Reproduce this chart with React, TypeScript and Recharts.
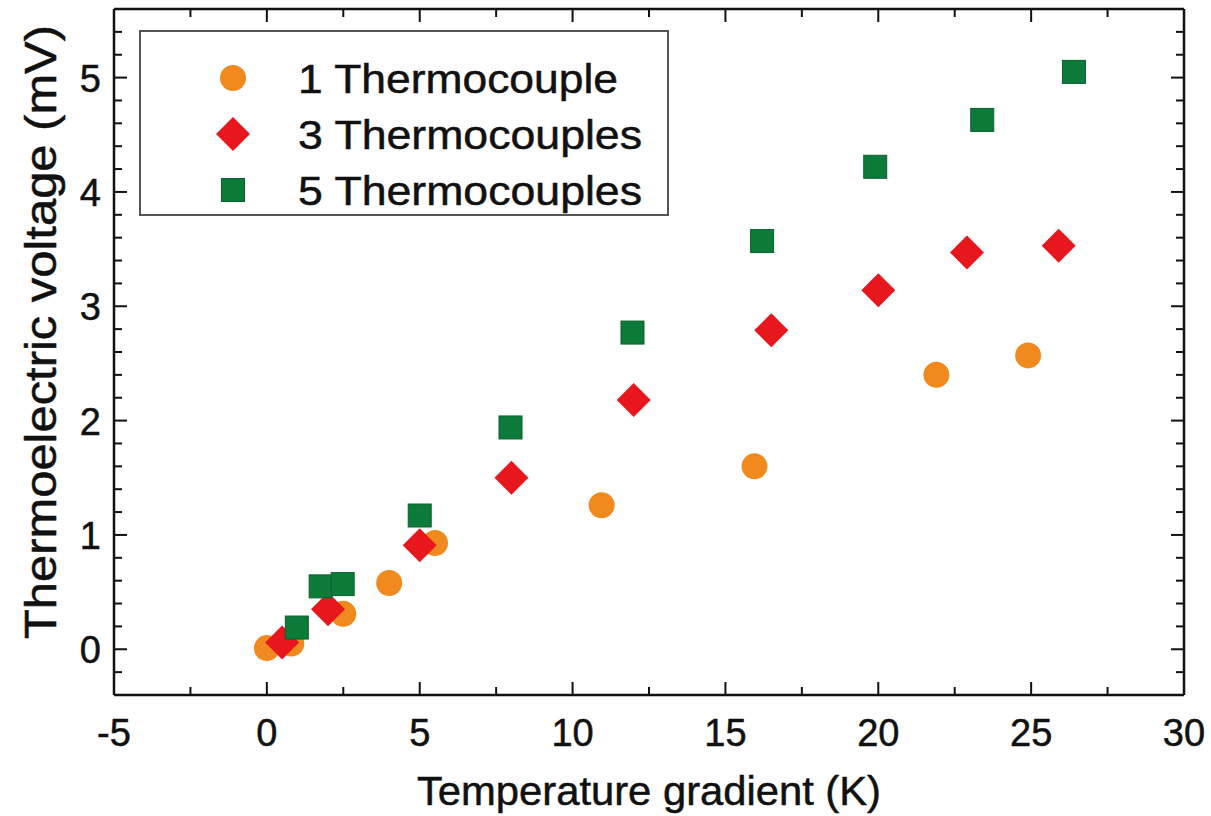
import React from "react";
import { ScatterChart, Scatter, XAxis, YAxis } from "recharts";

// Temperature gradient (K) / Thermoelectric voltage (mV)
const ONE_X = [0, 0.8, 2.5, 4.0, 5.5, 10.95, 15.95, 21.9, 24.9];
const ONE_Y = [0.01, 0.05, 0.31, 0.58, 0.93, 1.26, 1.6, 2.4, 2.57];
const THREE_X = [0.5, 2.0, 5.0, 8.0, 12.0, 16.5, 20.0, 22.9, 25.9];
const THREE_Y = [0.06, 0.35, 0.91, 1.5, 2.18, 2.79, 3.14, 3.47, 3.53];
const FIVE_X = [0.98, 1.76, 2.48, 5.0, 7.97, 11.96, 16.2, 19.9, 23.4, 26.4];
const FIVE_Y = [0.19, 0.55, 0.57, 1.17, 1.94, 2.77, 3.57, 4.22, 4.63, 5.05];

const SERIES_NAMES = ["1 Thermocouple", "3 Thermocouples", "5 Thermocouples"];

const X_TICKS = [-5, -2.5, 0, 2.5, 5, 7.5, 10, 12.5, 15, 17.5, 20, 22.5, 25, 27.5, 30];
const Y_TICKS = [
  -0.4, -0.2, 0, 0.2, 0.4, 0.6, 0.8, 1, 1.2, 1.4, 1.6, 1.8, 2, 2.2, 2.4, 2.6, 2.8, 3,
  3.2, 3.4, 3.6, 3.8, 4, 4.2, 4.4, 4.6, 4.8, 5, 5.2, 5.4, 5.6,
];
const X_MAJOR = [-5, 0, 5, 10, 15, 20, 25, 30];
const Y_MAJOR = [0, 1, 2, 3, 4, 5];

const ORANGE = "#F08A1E";
const RED = "#E8161D";
const GREEN = "#0C7B3A";
const INK = "#111";
const FONT = "'Liberation Sans', Arial, Helvetica, sans-serif";
// slight stroke makes the glyphs as heavy as the scanned figure's
const TXT = { fill: INK, stroke: INK, strokeWidth: 0.5, fontFamily: FONT };

const toPoints = (xs: number[], ys: number[]) => xs.map((x, i) => ({ x, y: ys[i] }));
const oneData = toPoints(ONE_X, ONE_Y);
const threeData = toPoints(THREE_X, THREE_Y);
const fiveData = toPoints(FIVE_X, FIVE_Y);

const isMajor = (v: number, list: number[]) => list.some(m => Math.abs(m - v) < 1e-6);

const CircleMark = ({ cx, cy }: any) => <circle cx={cx} cy={cy} r={13} fill={ORANGE} />;
const DiamondMark = ({ cx, cy }: any) => (
  <polygon points={`${cx},${cy - 17} ${cx + 17},${cy} ${cx},${cy + 17} ${cx - 17},${cy}`} fill={RED} />
);
const SquareMark = ({ cx, cy }: any) => (
  <rect x={cx - 11.5} y={cy - 11.5} width={23} height={23} fill={GREEN} stroke="#0a5f2c" strokeWidth={1} />
);

const BottomTick = ({ x, y, payload }: any) => {
  const major = isMajor(payload.value, X_MAJOR);
  return (
    <g>
      <line x1={x} y1={y} x2={x} y2={y - (major ? 13 : 8)} stroke={INK} strokeWidth={2} />
      {major && (
        <text x={x} y={y + 51} textAnchor="middle" fontSize={38} {...TXT}>
          {payload.value}
        </text>
      )}
    </g>
  );
};
const TopTick = ({ x, y, payload }: any) => {
  const major = isMajor(payload.value, X_MAJOR);
  return <line x1={x} y1={y} x2={x} y2={y + (major ? 13 : 8)} stroke={INK} strokeWidth={2} />;
};
const LeftTick = ({ x, y, payload }: any) => {
  const major = isMajor(payload.value, Y_MAJOR);
  return (
    <g>
      <line x1={x} y1={y} x2={x + (major ? 13 : 8)} y2={y} stroke={INK} strokeWidth={2} />
      {major && (
        <text x={x - 13} y={y + 14} textAnchor="end" fontSize={38} {...TXT}>
          {payload.value}
        </text>
      )}
    </g>
  );
};
const RightTick = ({ x, y, payload }: any) => {
  const major = isMajor(payload.value, Y_MAJOR);
  return <line x1={x} y1={y} x2={x - (major ? 13 : 8)} y2={y} stroke={INK} strokeWidth={2} />;
};

const XTitle = ({ viewBox }: any) => (
  <text x={viewBox.x + viewBox.width / 2} y={viewBox.y + 110} textAnchor="middle"
    fontSize={40} {...TXT} textLength={464} lengthAdjust="spacingAndGlyphs">
    Temperature gradient (K)
  </text>
);
const YTitle = ({ viewBox }: any) => {
  const cx = viewBox.x + 56;
  const cy = viewBox.y + viewBox.height / 2 - 20;
  return (
    <text x={cx} y={cy} transform={`rotate(-90 ${cx} ${cy})`} textAnchor="middle"
      fontSize={44} {...TXT} textLength={614} lengthAdjust="spacingAndGlyphs">
      Thermoelectric voltage (mV)
    </text>
  );
};

const LEGEND_MARKS = [
  (cx: number, cy: number) => <circle cx={cx} cy={cy} r={13} fill={ORANGE} />,
  (cx: number, cy: number) => (
    <polygon points={`${cx},${cy - 17} ${cx + 17},${cy} ${cx},${cy + 17} ${cx - 17},${cy}`} fill={RED} />
  ),
  (cx: number, cy: number) => (
    <rect x={cx - 11.5} y={cy - 11.5} width={23} height={23} fill={GREEN} stroke="#0a5f2c" strokeWidth={1} />
  ),
];
const LEGEND_LEN = [320, 344, 344];

function LegendBox() {
  return (
    <svg width={530} height={186} style={{ position: "absolute", left: 139, top: 30 }}>
      <rect x={1} y={1} width={528} height={184} fill="#fff" stroke="#555" strokeWidth={2} />
      {SERIES_NAMES.map((name, i) => {
        const cy = 48 + i * 56;
        return (
          <g key={name}>
            {LEGEND_MARKS[i](94, cy)}
            <text x={159} y={cy + 15} fontSize={41} {...TXT}
              textLength={LEGEND_LEN[i]} lengthAdjust="spacingAndGlyphs">
              {name}
            </text>
          </g>
        );
      })}
    </svg>
  );
}

export default function App() {
  return (
    <div style={{ position: "absolute", left: 0, top: 0, width: 1211, height: 816, background: "#fff" }}>
      <ScatterChart width={1211} height={816} margin={{ top: 0, right: 0, bottom: 0, left: 0 }}>
        <XAxis xAxisId="b" type="number" dataKey="x" domain={[-5, 30]} ticks={X_TICKS} interval={0}
          allowDataOverflow height={121} tickSize={0} tickMargin={0} tick={BottomTick}
          axisLine={{ stroke: INK, strokeWidth: 2.5 }} label={{ content: XTitle }} />
        <XAxis xAxisId="t" orientation="top" type="number" dataKey="x" domain={[-5, 30]} ticks={X_TICKS}
          interval={0} allowDataOverflow height={9} tickSize={0} tickMargin={0} tick={TopTick}
          axisLine={{ stroke: INK, strokeWidth: 2.5 }} />
        <YAxis yAxisId="l" type="number" dataKey="y" domain={[-0.4, 5.6]} ticks={Y_TICKS} interval={0}
          allowDataOverflow width={114} tickSize={0} tickMargin={0} tick={LeftTick}
          axisLine={{ stroke: INK, strokeWidth: 2.5 }} label={{ content: YTitle }} />
        <YAxis yAxisId="r" orientation="right" type="number" dataKey="y" domain={[-0.4, 5.6]} ticks={Y_TICKS}
          interval={0} allowDataOverflow width={27} tickSize={0} tickMargin={0} tick={RightTick}
          axisLine={{ stroke: INK, strokeWidth: 2.5 }} />
        <Scatter name={SERIES_NAMES[0]} data={oneData} xAxisId="b" yAxisId="l" shape={CircleMark} isAnimationActive={false} />
        <Scatter name={SERIES_NAMES[1]} data={threeData} xAxisId="b" yAxisId="l" shape={DiamondMark} isAnimationActive={false} />
        <Scatter name={SERIES_NAMES[2]} data={fiveData} xAxisId="b" yAxisId="l" shape={SquareMark} isAnimationActive={false} />
      </ScatterChart>
      <LegendBox />
    </div>
  );
}
